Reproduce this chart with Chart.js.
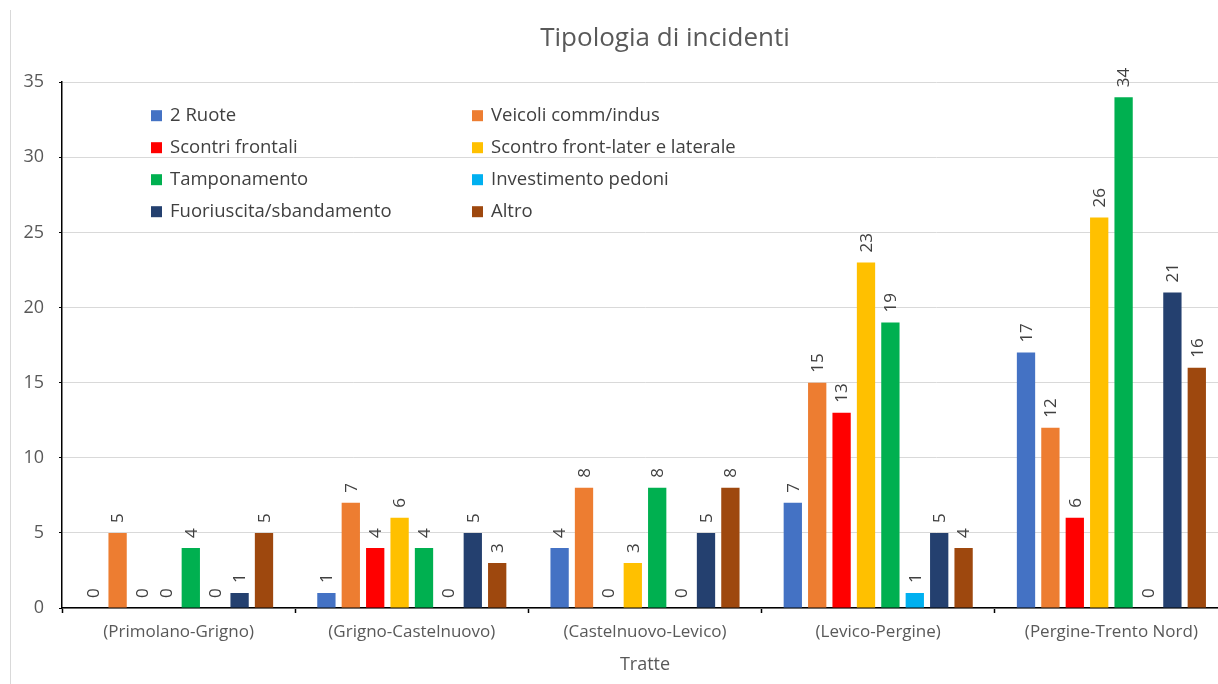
<!DOCTYPE html>
<html lang="it">
<head>
<meta charset="utf-8">
<title>Tipologia di incidenti</title>
<script src="https://cdn.jsdelivr.net/npm/chart.js@4.4.1/dist/chart.umd.min.js"></script>
<style>
  html, body { margin: 0; padding: 0; background: #fff; overflow: hidden; }
  .wrap { position: relative; width: 1218px; height: 684px; overflow: hidden; }
  .frame { position: absolute; left: 10px; top: 10px; bottom: 0; width: 0; border-left: 1px solid #d9d9d9; }
  #grafico { position: absolute; left: 0; top: 0; }
</style>
</head>
<body>
<div class="wrap">
  <canvas id="grafico" width="1330" height="684"></canvas>
  <div class="frame"></div>
</div>
<script>
// tratte stradali
const tratte = ['(Primolano-Grigno)', '(Grigno-Castelnuovo)', '(Castelnuovo-Levico)', '(Levico-Pergine)', '(Pergine-Trento Nord)'];

// numero di incidenti per tipologia
const dueRuote      = [0, 1, 4, 7, 17];
const veicoliComm   = [5, 7, 8, 15, 12];
const scontriFront  = [0, 4, 0, 13, 6];
const scontroLater  = [0, 6, 3, 23, 26];
const tamponamento  = [4, 4, 8, 19, 34];
const investimento  = [0, 0, 0, 1, 0];
const fuoriuscita   = [1, 5, 5, 5, 21];
const altro         = [5, 3, 8, 4, 16];

const yTicks = [0, 5, 10, 15, 20, 25, 30, 35];

const font = '"Open Sans", sans-serif';
const grigio = '#595959';

function serie(label, data, color) {
  return {
    label: label,
    data: data,
    backgroundColor: color,
    borderWidth: 0,
    categoryPercentage: 0.837,
    barPercentage: 0.75
  };
}

// etichette dei valori, ruotate in verticale sopra le barre
const etichette = {
  id: 'etichette',
  afterDatasetsDraw(chart) {
    const ctx = chart.ctx;
    ctx.save();
    ctx.font = '17px ' + font;
    ctx.fillStyle = '#404040';
    ctx.textAlign = 'left';
    ctx.textBaseline = 'middle';
    chart.data.datasets.forEach((ds, i) => {
      const meta = chart.getDatasetMeta(i);
      meta.data.forEach((bar, j) => {
        ctx.save();
        ctx.translate(bar.x, bar.y - 10);
        ctx.rotate(-Math.PI / 2);
        ctx.fillText(String(ds.data[j]), 0, 1);
        ctx.restore();
      });
    });
    ctx.restore();
  }
};

// legenda su due colonne dentro l'area del grafico
const legenda = {
  id: 'legenda',
  afterDraw(chart) {
    const ctx = chart.ctx;
    const area = chart.chartArea;
    ctx.save();
    ctx.font = '18.5px ' + font;
    ctx.textBaseline = 'middle';
    ctx.textAlign = 'left';
    chart.data.datasets.forEach((ds, i) => {
      const col = i % 2;
      const row = Math.floor(i / 2);
      const x = area.left + 89 + col * 321;
      const y = area.top + 34 + row * 32;
      ctx.fillStyle = ds.backgroundColor;
      ctx.fillRect(x, y - 6, 11, 11);
      ctx.fillStyle = '#404040';
      ctx.fillText(ds.label, x + 19, y);
    });
    ctx.restore();
  }
};

new Chart(document.getElementById('grafico'), {
  type: 'bar',
  data: {
    labels: tratte,
    datasets: [
      serie('2 Ruote', dueRuote, '#4472C4'),
      serie('Veicoli comm/indus', veicoliComm, '#ED7D31'),
      serie('Scontri frontali', scontriFront, '#FF0000'),
      serie('Scontro front-later e laterale', scontroLater, '#FFC000'),
      serie('Tamponamento', tamponamento, '#00B050'),
      serie('Investimento pedoni', investimento, '#00B0F0'),
      serie('Fuoriuscita/sbandamento', fuoriuscita, '#24406F'),
      serie('Altro', altro, '#9E480E')
    ]
  },
  options: {
    responsive: false,
    animation: false,
    layout: { padding: 0 },
    plugins: {
      legend: { display: false },
      tooltip: { enabled: false },
      title: {
        display: true,
        text: 'Tipologia di incidenti',
        color: grigio,
        font: { family: font, size: 26, weight: 'normal' },
        padding: { top: 23, bottom: 28 }
      }
    },
    scales: {
      x: {
        afterFit(s) { s.height = 76; },
        grid: {
          display: true,
          offset: true,
          drawOnChartArea: false,
          drawTicks: true,
          tickLength: 5,
          tickColor: '#000',
          tickWidth: 1.5
        },
        border: { color: '#000', width: 1.5 },
        ticks: {
          color: grigio,
          font: { family: font, size: 17 },
          padding: 9
        },
        title: {
          display: true,
          text: 'Tratte',
          color: grigio,
          font: { family: font, size: 18 },
          padding: { top: 2, bottom: 8 }
        }
      },
      y: {
        min: 0,
        max: 35,
        afterFit(s) { s.width = 62; },
        afterBuildTicks(s) { s.ticks = yTicks.map(v => ({ value: v })); },
        grid: {
          color: '#d9d9d9',
          lineWidth: 1,
          tickLength: 3,
          tickColor: '#000'
        },
        border: { color: '#000', width: 1.5 },
        ticks: {
          color: grigio,
          font: { family: font, size: 18 },
          padding: 15
        }
      },
      // spazio a destra: l'area del grafico prosegue oltre il bordo visibile
      margine: {
        type: 'linear',
        position: 'right',
        afterFit(s) { s.width = 102; },
        grid: { display: false },
        border: { display: false },
        ticks: { display: false }
      }
    }
  },
  plugins: [etichette, legenda]
});
</script>
</body>
</html>
